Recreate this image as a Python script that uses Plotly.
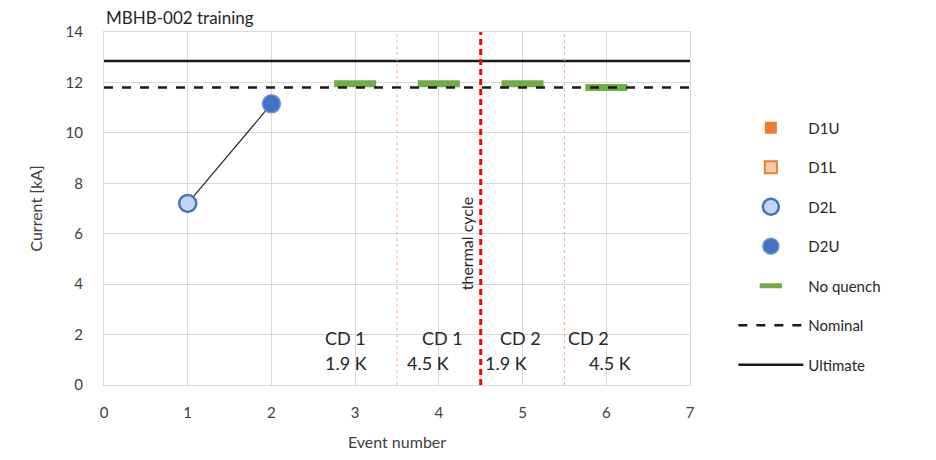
import plotly.graph_objects as go

# Training events of magnet MBHB-002
d2l_event = [1]
d2l_current = [7.2]
d2u_event = [2]
d2u_current = [11.15]
noq_event = [3, 4, 5, 6]
noq_current = [11.95, 11.95, 11.95, 11.8]

nominal_current = 11.8
ultimate_current = 12.85
x_range = [0, 7]
y_range = [0, 14]

thermal_cycle_x = 4.5
cooldown_splits = [3.5, 5.5]

# Campaign labels (text, x, y)
cd_labels = [
    ("CD 1", 2.88, 1.85), ("1.9 K", 2.89, 0.87),
    ("CD 1", 4.04, 1.85), ("4.5 K", 3.87, 0.87),
    ("CD 2", 4.97, 1.85), ("1.9 K", 4.80, 0.87),
    ("CD 2", 5.79, 1.85), ("4.5 K", 6.05, 0.87),
]

FONT = "Lato, 'Open Sans', sans-serif"
TXT = "#404040"

fig = go.Figure()

# connecting line for the quench sequence
fig.add_trace(go.Scatter(
    x=d2l_event + d2u_event, y=d2l_current + d2u_current,
    mode="lines", line=dict(color="#262626", width=1.2),
    showlegend=False, hoverinfo="skip"))

fig.add_trace(go.Scatter(
    x=[None], y=[None], mode="markers", name="D1U", legendgroup="a",
    marker=dict(symbol="square", size=12, color="#ED7D31")))
fig.add_trace(go.Scatter(
    x=[None], y=[None], mode="markers", name="D1L", legendgroup="b",
    marker=dict(symbol="square", size=12, color="#F8CBAD",
                line=dict(color="#ED7D31", width=2))))
fig.add_trace(go.Scatter(
    x=d2l_event, y=d2l_current, mode="markers", name="D2L", legendgroup="c",
    marker=dict(symbol="circle", size=17, color="#C5D6F0",
                line=dict(color="#4472C4", width=2.5))))
fig.add_trace(go.Scatter(
    x=d2u_event, y=d2u_current, mode="markers", name="D2U", legendgroup="d",
    marker=dict(symbol="circle", size=18, color="#4472C4",
                line=dict(color="#6E93D6", width=1.5))))
fig.add_trace(go.Scatter(
    x=noq_event, y=noq_current, mode="markers", name="No quench", legendgroup="e",
    marker=dict(symbol="line-ew", size=30, color="#70AD47",
                line=dict(color="#70AD47", width=7))))
fig.add_trace(go.Scatter(
    x=x_range, y=[nominal_current] * 2, mode="lines", name="Nominal", legendgroup="f",
    line=dict(color="#1a1a1a", width=2.5, dash="9px,9px")))
fig.add_trace(go.Scatter(
    x=x_range, y=[ultimate_current] * 2, mode="lines", name="Ultimate", legendgroup="g",
    line=dict(color="#1a1a1a", width=2.5)))

# thermal cycle and cooldown separators
fig.add_shape(type="line", x0=thermal_cycle_x, x1=thermal_cycle_x, y0=y_range[0], y1=y_range[1],
              xref="x", yref="y", line=dict(color="#FF0000", width=3, dash="6px,4px"))
for xs in cooldown_splits:
    fig.add_shape(type="line", x0=xs, x1=xs, y0=y_range[0], y1=y_range[1],
                  xref="x", yref="y", line=dict(color="#F4B183", width=1, dash="dot"))

for text, x, y in cd_labels:
    fig.add_annotation(x=x, y=y, text=text, showarrow=False,
                       font=dict(family=FONT, size=18, color="#262626"))

fig.add_annotation(x=4.33, y=5.6, text="thermal cycle", textangle=-90, showarrow=False,
                   font=dict(family=FONT, size=16, color="#262626"))

fig.add_annotation(x=0, y=1, xref="paper", yref="paper", xanchor="left", yanchor="bottom",
                   yshift=2, text="MBHB-002 training", showarrow=False,
                   font=dict(family=FONT, size=17, color="#262626"))

grid = "#D9D9D9"
fig.update_xaxes(range=x_range, dtick=1, showgrid=True, gridcolor=grid, gridwidth=1,
                 zeroline=False, showline=True, linecolor=grid, mirror=True,
                 tickfont=dict(family=FONT, size=15, color=TXT), ticks="",
                 ticklabelstandoff=14,
                 title=dict(text="Event number", font=dict(family=FONT, size=16, color=TXT),
                            standoff=16))
fig.update_yaxes(range=y_range, dtick=2, showgrid=True, gridcolor=grid, gridwidth=1,
                 zeroline=False, showline=True, linecolor=grid, mirror=True,
                 tickfont=dict(family=FONT, size=15, color=TXT), ticks="",
                 ticklabelstandoff=17,
                 title=dict(text="Current [kA]", font=dict(family=FONT, size=16, color=TXT),
                            standoff=18))

fig.update_layout(
    width=936, height=460,
    margin=dict(l=104, r=246, t=32, b=73),
    paper_bgcolor="white", plot_bgcolor="white",
    font=dict(family=FONT, color=TXT),
    legend=dict(x=1.074, y=0.775, xanchor="left", yanchor="top",
                traceorder="grouped", tracegroupgap=17, itemwidth=65,
                font=dict(family=FONT, size=15, color="#262626"),
                bgcolor="rgba(0,0,0,0)"),
)

fig.write_html("out.html")
